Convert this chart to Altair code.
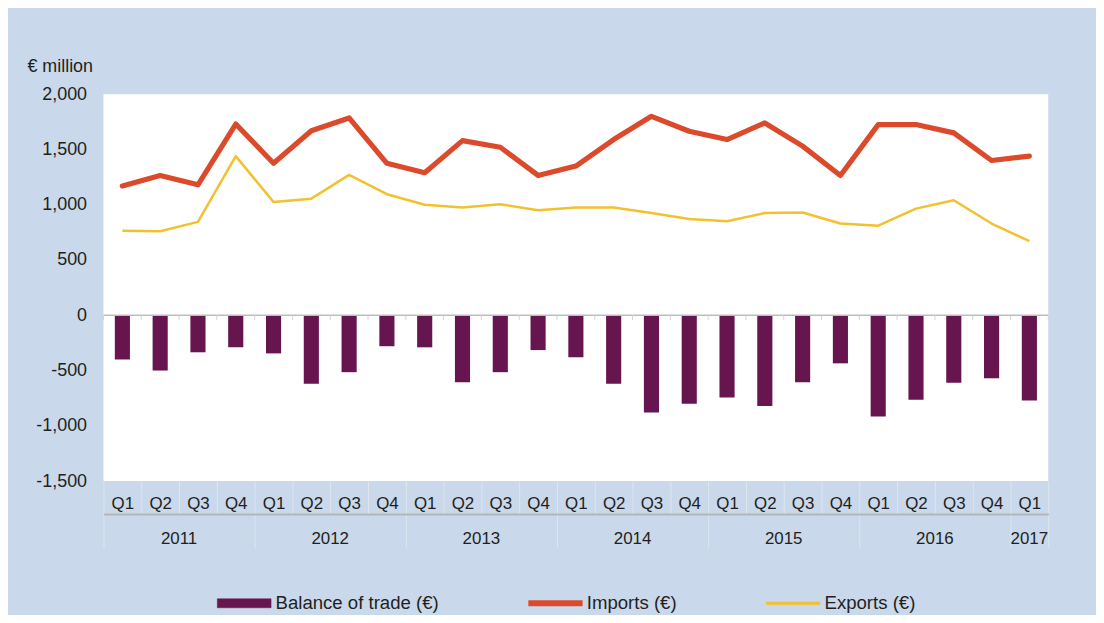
import altair as alt
import pandas as pd

FONT = "Liberation Sans"
TEXT = "#231f20"
BG = "#c9d8ea"

# ---- data ----
years = [2011] * 4 + [2012] * 4 + [2013] * 4 + [2014] * 4 + [2015] * 4 + [2016] * 4 + [2017]
quarters = ["Q1", "Q2", "Q3", "Q4"] * 6 + ["Q1"]
balance = [-400, -500, -335, -290, -345, -620, -515, -280, -290, -605, -515, -315,
           -380, -620, -880, -800, -745, -820, -605, -435, -915, -765, -610, -570, -770]
imports = [1170, 1265, 1180, 1730, 1375, 1670, 1785, 1375, 1290, 1580, 1520, 1265,
           1350, 1590, 1800, 1665, 1590, 1740, 1530, 1265, 1725, 1725, 1650, 1400, 1440]
exports = [765, 760, 845, 1440, 1025, 1055, 1270, 1095, 1000, 975, 1005, 950,
           975, 975, 925, 870, 850, 925, 930, 830, 810, 965, 1040, 830, 670]
series_names = ["Balance of trade (€)", "Imports (€)", "Exports (€)"]
series_colors = ["#66154f", "#dc4a2c", "#f2c12e"]
y_ticks = [-1500, -1000, -500, 0, 500, 1000, 1500, 2000]

periods = [f"{y} {q}" for y, q in zip(years, quarters)]
rows = []
for p, b, i, e in zip(periods, balance, imports, exports):
    rows += [(p, series_names[0], b), (p, series_names[1], i), (p, series_names[2], e)]
df = pd.DataFrame(rows, columns=["period", "series", "value"])

year_list = sorted(set(years))
counts = [years.count(y) for y in year_list]
starts = [sum(counts[:k]) for k in range(len(counts))]
year_df = pd.DataFrame({"year": [str(y) for y in year_list],
                        "center": [s + c / 2 for s, c in zip(starts, counts)]})
year_bounds = starts + [len(periods)]
bounds_df = pd.DataFrame({"idx": list(range(len(periods) + 1))})

# ---- scales / axes ----
y_scale = alt.Scale(domain=[min(y_ticks), max(y_ticks)], nice=False, zero=False)
y_axis = alt.Axis(
    values=y_ticks,
    labelExpr="(datum.value < 0 ? '-' : '') + format(abs(datum.value), ',')",
    grid=False, domain=False, ticks=False, labelPadding=17,
    labelFont=FONT, labelFontSize=18, labelColor=TEXT,
    title="€ million", titleAngle=0, titleX=-77, titleY=-28,
    titleAlign="left", titleBaseline="middle", titleFont=FONT,
    titleFontSize=18, titleFontWeight="normal", titleColor=TEXT,
)
x_enc = alt.X(
    "period:N", sort=periods, title=None,
    scale=alt.Scale(paddingInner=0, paddingOuter=0),
    axis=alt.Axis(
        orient="bottom", labelExpr="split(datum.label, ' ')[1]", labelAngle=0,
        tickBand="extent", tickSize=33, tickColor="#dfe6ef", tickWidth=1,
        domain=False, labelPadding=-10, labelBaseline="middle",
        labelFont=FONT, labelFontSize=17, labelColor=TEXT,
    ),
)

shape_expr = (
    "datum.value === 'Balance of trade (€)' ? 'M-1,-0.1667H1V0.1667H-1Z' : "
    "(datum.value === 'Imports (€)' ? 'M-1,-0.1H1V0.1H-1Z' : 'M-1,-0.047H1V0.047H-1Z')"
)
legend = alt.Legend(
    title=None, orient="none", legendX=114, legendY=484, direction="horizontal",
    symbolType={"expr": shape_expr}, symbolSize=2916, labelFont=FONT, labelFontSize=18.7,
    labelColor=TEXT, labelOffset=4, columnPadding=88, padding=0, labelLimit=400,
    symbolFillColor={"expr": "scale('color', datum.value)"},
    symbolStrokeColor={"expr": "scale('color', datum.value)"},
    symbolStrokeWidth=0.5, symbolOpacity=1,
)
color = alt.Color("series:N", scale=alt.Scale(domain=series_names, range=series_colors),
                  legend=legend)

base = alt.Chart(df)
bars = base.transform_filter(alt.datum.series == series_names[0]).mark_bar(
    width={"band": 0.4}
).encode(x=x_enc, y=alt.Y("value:Q", scale=y_scale, axis=y_axis), color=color)

zero_line = alt.Chart(pd.DataFrame({"value": [0]})).mark_rule(
    color="#bdbdbd", strokeWidth=1.5
).encode(y=alt.Y("value:Q", scale=y_scale, axis=y_axis))

imp = base.transform_filter(alt.datum.series == series_names[1]).mark_line(
    strokeWidth=5.2, strokeJoin="round", strokeCap="round"
).encode(x=x_enc, y=alt.Y("value:Q", scale=y_scale, axis=y_axis), color=color)

exp = base.transform_filter(alt.datum.series == series_names[2]).mark_line(
    strokeWidth=2.5, strokeJoin="round"
).encode(x=x_enc, y=alt.Y("value:Q", scale=y_scale, axis=y_axis), color=color)

main = alt.layer(bars, zero_line, imp, exp)

x_dec_scale = alt.Scale(domain=[0, len(periods)], nice=False, zero=False)
year_axis = alt.Axis(
    orient="bottom", values=year_bounds, offset=33, labels=False, grid=False,
    domain=True, domainColor="#b5b5b5", domainWidth=2,
    tickSize=34, tickColor="#dfe6ef", tickWidth=1, title=None,
)
zero_ticks = alt.Chart(bounds_df).mark_rule(color="#d4d4d4", strokeWidth=1).encode(
    x=alt.X("idx:Q", scale=x_dec_scale, axis=year_axis),
    y=alt.YDatum(0, scale=y_scale, axis=y_axis),
    y2=alt.Y2Datum(-45),
)
year_text = alt.Chart(year_df).mark_text(
    font=FONT, fontSize=17, color=TEXT, baseline="middle"
).encode(
    x=alt.X("center:Q", scale=x_dec_scale, axis=year_axis),
    y=alt.value(447),
    text="year:N",
)
deco = alt.layer(zero_ticks, year_text)

chart = alt.layer(main, deco).resolve_scale(x="independent").properties(
    width=950, height=389,
    padding={"left": 96, "top": 85, "right": 48, "bottom": 133},
    autosize=alt.AutoSizeParams(type="none"),
    background=BG,
).configure_view(fill="white", strokeWidth=0)

chart.save("out.html", embed_options={"renderer": "svg", "actions": False})
